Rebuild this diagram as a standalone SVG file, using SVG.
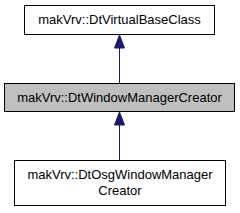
<svg xmlns="http://www.w3.org/2000/svg" width="240" height="213" viewBox="0 0 240 213">
<style>
.box{fill:#ffffff;stroke:#000000;stroke-width:1}
.cur{fill:#bfbfbf;stroke:#000000;stroke-width:1}
text{font-family:"Liberation Sans",Arial,sans-serif;font-size:13px;fill:#000000;text-anchor:middle}
.edge{stroke:#191970;stroke-width:1;fill:none}
.head{fill:#191970;stroke:#191970;stroke-width:1}
</style>
<rect width="240" height="213" fill="#ffffff"/>
<g id="connectors">
<path class="edge" d="M119.5,48 V83.5"/>
<polygon class="head" points="119.5,35 114.5,48 124.5,48"/>
<path class="edge" d="M119.5,125 V160.5"/>
<polygon class="head" points="119.5,112 114.5,125 124.5,125"/>
</g>
<g id="node-DtVirtualBaseClass">
<rect class="box" x="24.5" y="5.5" width="190" height="29"/>
<text x="119.5" y="23.5">makVrv::DtVirtualBaseClass</text>
</g>
<g id="node-DtWindowManagerCreator">
<rect class="cur" x="4.5" y="83.5" width="230" height="28"/>
<text x="119.5" y="102">makVrv::DtWindowManagerCreator</text>
</g>
<g id="node-DtOsgWindowManagerCreator">
<rect class="box" x="14.5" y="160.5" width="211" height="45"/>
<text x="120" y="178.5">makVrv::DtOsgWindowManager</text>
<text x="120" y="195">Creator</text>
</g>
</svg>
